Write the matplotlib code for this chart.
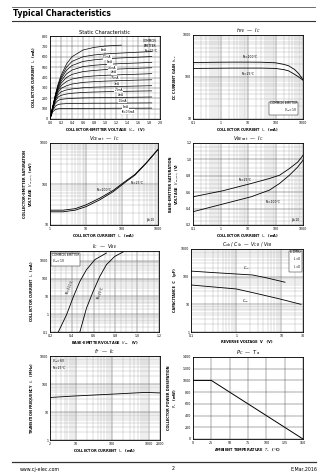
import matplotlib
matplotlib.use("Agg")
import matplotlib.pyplot as plt
from matplotlib.ticker import MultipleLocator, LogLocator, FixedLocator, NullFormatter, FuncFormatter

# ---- static characteristic (IC vs VCE, one curve per IB step) ----
vce = [0, 0.05, 0.1, 0.15, 0.2, 0.3, 0.4, 0.6, 0.8, 1.0, 1.3, 1.6, 1.85]
ibLabels = ["6mA", "5.5mA", "5mA", "4.5mA", "4mA", "3.5mA", "3mA", "2.5mA",
            "2mA", "1.5mA", "1mA", "IB=0.5mA"]
icCurves = [
    [0, 120, 240, 340, 420, 530, 600, 665, 690, 703, 712],
    [0, 118, 235, 330, 400, 500, 555, 600, 617, 627, 636, 644, 650],
    [0, 116, 230, 320, 385, 470, 515, 555, 570, 580, 589, 596, 602],
    [0, 114, 225, 305, 365, 435, 472, 505, 518, 526, 534, 540, 546],
    [0, 112, 218, 292, 345, 400, 430, 457, 468, 476, 483, 489, 494],
    [0, 110, 210, 278, 320, 362, 385, 405, 415, 421, 427, 432, 437],
    [0, 108, 200, 260, 295, 320, 337, 353, 360, 365, 370, 375, 378],
    [0, 105, 190, 237, 262, 280, 290, 301, 307, 310, 314, 318, 321],
    [0, 100, 175, 213, 228, 241, 248, 256, 260, 263, 266, 269, 271],
    [0, 95, 155, 180, 189, 195, 199, 203, 205, 206, 208, 210, 212],
    [0, 85, 125, 140, 145, 148, 150, 151, 152, 152, 153, 154, 155],
    [0, 70, 92, 98, 100, 101, 102, 102, 103, 103, 104, 104, 105],
]
ibLabelX = [0.97, 1.04, 1.09, 1.13, 1.16, 1.19, 1.22, 1.25, 1.28, 1.32, 1.37, 1.42]

# ---- hFE vs IC ----
icH = [0.1, 0.3, 1, 3, 10, 30, 100, 200, 300, 500, 700, 1000]
hfe100 = [222, 223, 225, 226, 226, 225, 218, 200, 185, 150, 120, 86]
hfe25 = [160, 161, 162, 163, 163, 163, 160, 150, 140, 115, 100, 84]

# ---- VCE(sat) vs IC ----
icS = [1, 2.3, 5, 10, 24, 57, 133, 230, 470, 1000]
vcesat25 = [21, 21, 23, 28, 41, 65, 116, 165, 320, 690]
vcesat100 = [23, 23, 25, 31, 45, 70, 122, 172, 328, 705]

# ---- VBE(sat) vs IC ----
icB = [0.1, 1.2, 13, 60, 140, 320, 650, 1000]
vbesat25 = [0.544, 0.617, 0.706, 0.767, 0.807, 0.888, 0.969, 1.05]
vbesat100 = [0.362, 0.455, 0.544, 0.625, 0.706, 0.807, 0.909, 0.99]

# ---- IC vs VBE ----
vbe100 = [0.276, 0.352, 0.413, 0.474, 0.535, 0.612, 0.718]
icV100 = [0.1, 0.93, 9.1, 69, 316, 1150, 2700]
vbe25 = [0.474, 0.535, 0.596, 0.657, 0.718, 0.794, 0.871]
icV25 = [0.1, 2.2, 19, 132, 600, 1740, 3100]

# ---- Cob / Cib vs reverse voltage ----
vrIb = [0.1, 0.263, 1, 2.3, 4.5, 12]
cib = [159, 143, 125, 115, 92, 63]
vrOb = [0.1, 1, 2.7, 8.7, 27]
cob = [50, 36, 25, 16, 10]

# ---- fT vs IC ----
icT = [2, 8.5, 84, 800, 2000]
fT = [33, 37, 43, 50, 48]

# ---- PC vs Ta ----
ta = [0, 25, 150]
pc = [1000, 1000, 0]

W, H = 336, 475
fig = plt.figure(figsize=(W / 100, H / 100), dpi=100)

TICK = 2.3
LAB = 2.5


def panel(x0, y0, x1, y1):
    return fig.add_axes([x0 / W, 1 - y1 / H, (x1 - x0) / W, (y1 - y0) / H])


def style(ax, xlabel, ylabel, title, titlePad=2):
    ax.tick_params(which="both", labelsize=TICK, length=0, pad=1.2)
    ax.set_axisbelow(True)
    ax.grid(True, which="major", color="#555555", lw=0.35)
    ax.grid(True, which="minor", color="#a0a0a0", lw=0.25)
    for s in ax.spines.values():
        s.set_linewidth(0.6)
    ax.set_xlabel(xlabel, fontsize=LAB, labelpad=1.5, fontweight="bold")
    ax.set_ylabel(ylabel, fontsize=LAB, labelpad=3, fontweight="bold")
    ax.set_title(title, fontsize=3.6, pad=titlePad)


def logAxis(axis):
    axis.set_major_locator(LogLocator(base=10))
    axis.set_minor_locator(LogLocator(base=10, subs=range(2, 10)))
    axis.set_minor_formatter(NullFormatter())
    axis.set_major_formatter(FuncFormatter(lambda v, p: f"{v:g}"))


def note(ax, x, y, txt, ha="left", va="top", box=True, **kw):
    bbox = dict(boxstyle="square,pad=0.3", fc="white", ec="black", lw=0.3) if box else None
    ax.text(x, y, txt, transform=ax.transAxes, fontsize=2.2, ha=ha, va=va,
            bbox=bbox, linespacing=1.2, **kw)


# header and footer
fig.add_artist(plt.Line2D([12 / W, 315 / W], [1 - 7 / H, 1 - 7 / H], color="#555555", lw=0.6))
fig.add_artist(plt.Line2D([12 / W, 315 / W], [1 - 21 / H, 1 - 21 / H], color="#333333", lw=0.8))
fig.text(13 / W, 1 - 14 / H, "Typical Characteristics", fontsize=5.5, fontweight="bold", va="center")
fig.add_artist(plt.Line2D([12 / W, 316 / W], [1 - 462 / H, 1 - 462 / H], color="#333333", lw=0.9))
fig.text(20 / W, 1 - 469 / H, "www.cj-elec.com", fontsize=3.4, va="center")
fig.text(173 / W, 1 - 469 / H, "2", fontsize=3.4, va="center", ha="center")
fig.text(317 / W, 1 - 469 / H, "E,Mar,2016", fontsize=3.4, va="center", ha="right")

# static characteristic
ax1 = panel(50, 36, 160, 119)
for curve, lbl, lx in zip(icCurves, ibLabels, ibLabelX):
    ax1.plot(vce[:len(curve)], curve, color="black", lw=0.5)
    near = min(range(len(curve)), key=lambda i: abs(vce[i] - lx))
    ax1.text(lx, curve[near] - 14, lbl, fontsize=1.9, ha="center", va="top",
             bbox=dict(boxstyle="square,pad=0.1", fc="white", ec="none"))
ax1.set_xlim(0, 2.0)
ax1.set_ylim(0, 800)
ax1.xaxis.set_major_locator(MultipleLocator(0.2))
ax1.xaxis.set_minor_locator(MultipleLocator(0.1))
ax1.yaxis.set_major_locator(MultipleLocator(100))
ax1.yaxis.set_minor_locator(MultipleLocator(50))
ax1.xaxis.set_major_formatter(FuncFormatter(lambda v, p: f"{v:.1f}"))
style(ax1, "COLLECTOR-EMITTER VOLTAGE  $V_{CE}$   (V)", "COLLECTOR CURRENT  $I_C$  (mA)",
      "Static Characteristic", titlePad=1.5)
note(ax1, 0.97, 0.96, "COMMON\nEMITTER\nTa=25°C", ha="right", box=False)

# hFE vs IC
ax2 = panel(193, 35, 303, 119)
ax2.plot(icH, hfe100, color="black", lw=0.6)
ax2.plot(icH, hfe25, color="black", lw=0.6)
ax2.set_xscale("log")
ax2.set_yscale("log")
ax2.set_xlim(0.1, 1000)
ax2.set_ylim(10, 1000)
logAxis(ax2.xaxis)
logAxis(ax2.yaxis)
style(ax2, "COLLECTOR CURRENT  $I_C$   (mA)", "DC CURRENT GAIN  $h_{FE}$", "$h_{FE}$  —  $I_C$")
ax2.text(11, 300, "Ta=100°C", fontsize=2.2, ha="center", va="center")
ax2.text(10, 118, "Ta=25°C", fontsize=2.2, ha="center", va="center")
note(ax2, 0.95, 0.06, "COMMON EMITTER\n$V_{CE}$=1V", ha="right", va="bottom")

# VCE(sat) vs IC
ax3 = panel(50, 143, 158, 225)
ax3.plot(icS, vcesat100, color="black", lw=0.6)
ax3.plot(icS, vcesat25, color="black", lw=0.6)
ax3.set_xscale("log")
ax3.set_yscale("log")
ax3.set_xlim(1, 1000)
ax3.set_ylim(10, 1000)
logAxis(ax3.xaxis)
logAxis(ax3.yaxis)
style(ax3, "COLLECTOR CURRENT  $I_C$   (mA)",
      "COLLECTOR-EMITTER SATURATION\nVOLTAGE  $V_{CE(sat)}$  (mV)", "$V_{CEsat}$  —  $I_C$", titlePad=1.2)
ax3.text(30, 72, "Ta=100°C", fontsize=2.2, ha="center", va="center")
ax3.text(260, 105, "Ta=25°C", fontsize=2.2, ha="center", va="center")
note(ax3, 0.97, 0.04, "β=10", ha="right", va="bottom", box=False)

# VBE(sat) vs IC
ax4 = panel(193, 143, 303, 225)
ax4.plot(icB, vbesat25, color="black", lw=0.6)
ax4.plot(icB, vbesat100, color="black", lw=0.6)
ax4.set_xscale("log")
ax4.set_xlim(0.1, 1000)
ax4.set_ylim(0.2, 1.2)
logAxis(ax4.xaxis)
ax4.yaxis.set_major_locator(MultipleLocator(0.2))
ax4.yaxis.set_minor_locator(MultipleLocator(0.05))
ax4.yaxis.set_major_formatter(FuncFormatter(lambda v, p: f"{v:.1f}"))
style(ax4, "COLLECTOR CURRENT  $I_C$   (mA)",
      "BASE-EMITTER SATURATION\nVOLTAGE  $V_{BE(sat)}$  (V)", "$V_{BEsat}$  —  $I_C$", titlePad=1.2)
ax4.text(7.6, 0.75, "Ta=25°C", fontsize=2.2, ha="center", va="center")
ax4.text(81, 0.48, "Ta=100°C", fontsize=2.2, ha="center", va="center")
note(ax4, 0.97, 0.04, "β=10", ha="right", va="bottom", box=False)

# IC vs VBE
ax5 = panel(50, 251, 159, 332)
ax5.plot(vbe100, icV100, color="black", lw=0.6)
ax5.plot(vbe25, icV25, color="black", lw=0.6)
ax5.set_yscale("log")
ax5.set_xlim(0.2, 1.2)
ax5.set_ylim(0.1, 3500)
logAxis(ax5.yaxis)
ax5.yaxis.set_major_locator(FixedLocator([0.1, 1, 10, 100, 1000]))
ax5.xaxis.set_major_locator(MultipleLocator(0.2))
ax5.xaxis.set_minor_locator(MultipleLocator(0.05))
ax5.xaxis.set_major_formatter(FuncFormatter(lambda v, p: f"{v:.1f}"))
style(ax5, "BASE-EMITTER VOLTAGE  $V_{BE}$   (V)", "COLLECTOR CURRENT  $I_C$  (mA)",
      "$I_C$  —  $V_{BE}$", titlePad=1.0)
ax5.text(0.385, 30, "Ta=100°C", fontsize=2.2, ha="center", va="center", rotation=68)
ax5.text(0.665, 15, "Ta=25°C", fontsize=2.2, ha="center", va="center", rotation=68)
note(ax5, 0.02, 0.98, "COMMON EMITTER\n$V_{CE}$=1V")

# Cob / Cib vs reverse voltage
ax6 = panel(191, 249, 303, 332)
ax6.plot(vrIb, cib, color="black", lw=0.6)
ax6.plot(vrOb, cob, color="black", lw=0.6)
ax6.set_xscale("log")
ax6.set_yscale("log")
ax6.set_xlim(0.1, 30)
ax6.set_ylim(1, 1000)
logAxis(ax6.xaxis)
logAxis(ax6.yaxis)
ax6.xaxis.set_major_locator(FixedLocator([0.1, 1, 10, 30]))
style(ax6, "REVERSE VOLTAGE  V   (V)", "CAPACITANCE  C   (pF)",
      "$C_{ob}$ / $C_{ib}$  —  $V_{CB}$ / $V_{EB}$", titlePad=0.8)
ax6.title.set_fontsize(3.3)
ax6.text(1.65, 198, "$C_{ib}$", fontsize=2.4, ha="center", va="center")
ax6.text(1.65, 12.8, "$C_{ob}$", fontsize=2.4, ha="center", va="center")
note(ax6, 0.985, 0.985, "f=1MHz\n$I_E$=0\n$I_C$=0", ha="right")

# fT vs IC
ax7 = panel(50, 356, 160, 440)
ax7.plot(icT, fT, color="black", lw=0.6)
ax7.set_xscale("log")
ax7.set_yscale("log")
ax7.set_xlim(2, 2000)
ax7.set_ylim(1, 1000)
logAxis(ax7.xaxis)
logAxis(ax7.yaxis)
ax7.xaxis.set_major_locator(FixedLocator([2, 10, 100, 1000, 2000]))
style(ax7, "COLLECTOR CURRENT  $I_C$   (mA)", "TRANSITION FREQUENCY  $f_T$   (MHz)",
      "$f_T$  —  $I_C$", titlePad=1.5)
note(ax7, 0.02, 0.98, "$V_{CE}$=6V\nTa=25°C", box=False)

# PC vs Ta
ax8 = panel(193, 357, 303, 439)
ax8.plot(ta, pc, color="black", lw=0.7)
ax8.set_xlim(0, 150)
ax8.set_ylim(0, 1400)
ax8.xaxis.set_major_locator(MultipleLocator(25))
ax8.yaxis.set_major_locator(MultipleLocator(200))
style(ax8, "AMBIENT TEMPERATURE  $T_a$   (°C)",
      "COLLECTOR POWER DISSIPATION\n$P_C$   (mW)", "$P_C$  —  $T_a$", titlePad=1.5)
ax8.grid(False, which="minor")

fig.savefig("out.png", dpi=100, facecolor="white")
